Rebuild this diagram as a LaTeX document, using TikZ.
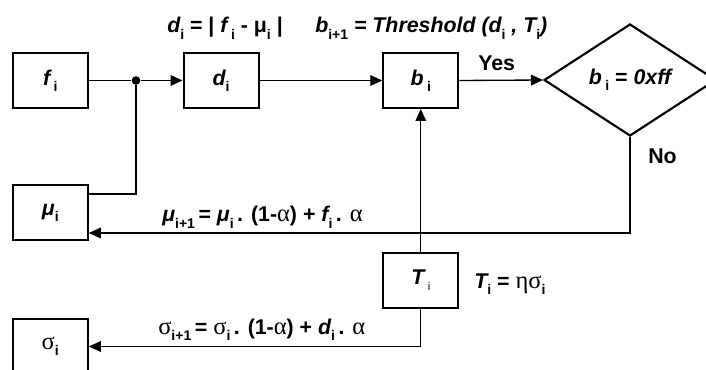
\documentclass[tikz,border=0pt]{standalone}
\usepackage{fontspec}
\setmainfont{Liberation Sans}
\newfontfamily\grk[Scale=1.15]{Liberation Serif}
\usetikzlibrary{arrows.meta,shapes.geometric}
\newcommand\mysub[1]{\raisebox{-0.3em}{\fontsize{10.5}{11}\selectfont\bfseries\upshape #1}}
\newcommand\gk[1]{{\grk\mdseries\upshape #1}}
\begin{document}
\begin{tikzpicture}[x=0.75pt,y=-0.75pt,
  every node/.style={font=\fontsize{16}{19}\selectfont\bfseries},
  blk/.style={draw,line width=1.5pt,minimum width=56.25pt,minimum height=41.25pt,inner sep=0pt},
  conn/.style={line width=1pt},
  arr/.style={conn,-{Triangle[length=9pt,width=8pt]}},
  lbl/.style={anchor=base west,inner sep=0pt}]
\clip (0,0) rectangle (706,370);
\useasboundingbox (0,0) rectangle (706,370);
% blocks
\node[blk] (f)  at (50.3,80.5)  {{\itshape f}\,\mysub{i}};
\node[blk] (d)  at (221,80.5)   {{\itshape d}\mysub{i}};
\node[blk] (b)  at (420.8,80.5) {{\itshape b}\,\mysub{i}};
\node[blk] (mu) at (50.3,213)   {{\itshape μ}\mysub{i}};
\node[blk] (T)  at (420.8,280)  {{\itshape T}\,\raisebox{-0.3em}{\fontsize{8.5}{9}\selectfont\mdseries i}};
\node[blk] (sg) at (50.3,346.5) {\gk{σ}\mysub{i}};
\node[draw,line width=1.6pt,diamond,inner sep=0pt,minimum width=129pt,minimum height=84pt] (dia) at (630,80) {{\itshape b}\,\mysub{i} = {\itshape 0xff}};
% junction
\node[circle,fill,inner sep=0pt,minimum size=6.5pt] (jn) at (136,80.5) {};
% connectors
\draw[conn] (f.east) -- (jn);
\draw[arr] (jn) -- (d.west);
\draw[conn] (jn) |- ([yshift=14.25pt]mu.east);
\draw[arr] (d.east) -- (b.west);
\draw[arr] (b.east) -- (dia.west);
\draw[arr] (dia.south) |- ([yshift=-15pt]mu.east);
\draw[arr] (T.north) -- (b.south);
\draw[arr] (T.south) |- (sg.east);
% labels
\node[lbl] (l1) at (167,33) {{\itshape d}\mysub{i} = | {\itshape f}\,\mysub{i} - μ\mysub{i} |};
\node[lbl] (l2) at (315,33) {{\itshape b\mysub{i+1} = Threshold (d\mysub{i} , T\mysub{i})}};
\node[lbl] (yes) at (478,70.5) {Yes};
\node[lbl] (no) at (648,164) {No};
\node[lbl] (l3) at (162,222) {{\itshape μ}\mysub{i+1}\,= {\itshape μ}\mysub{i}\,. (1-\gk{α}) + {\itshape f}\mysub{i}\,. \gk{α}};
\node[lbl] (l4) at (474,288) {{\itshape T}\mysub{i} = \gk{ησ}\mysub{i}};
\node[lbl] (l5) at (158,334) {\gk{σ}\mysub{i+1}\,= \gk{σ}\mysub{i}\,. (1-\gk{α}) + {\itshape d}\mysub{i}\,. \gk{α}};
\end{tikzpicture}
\end{document}
